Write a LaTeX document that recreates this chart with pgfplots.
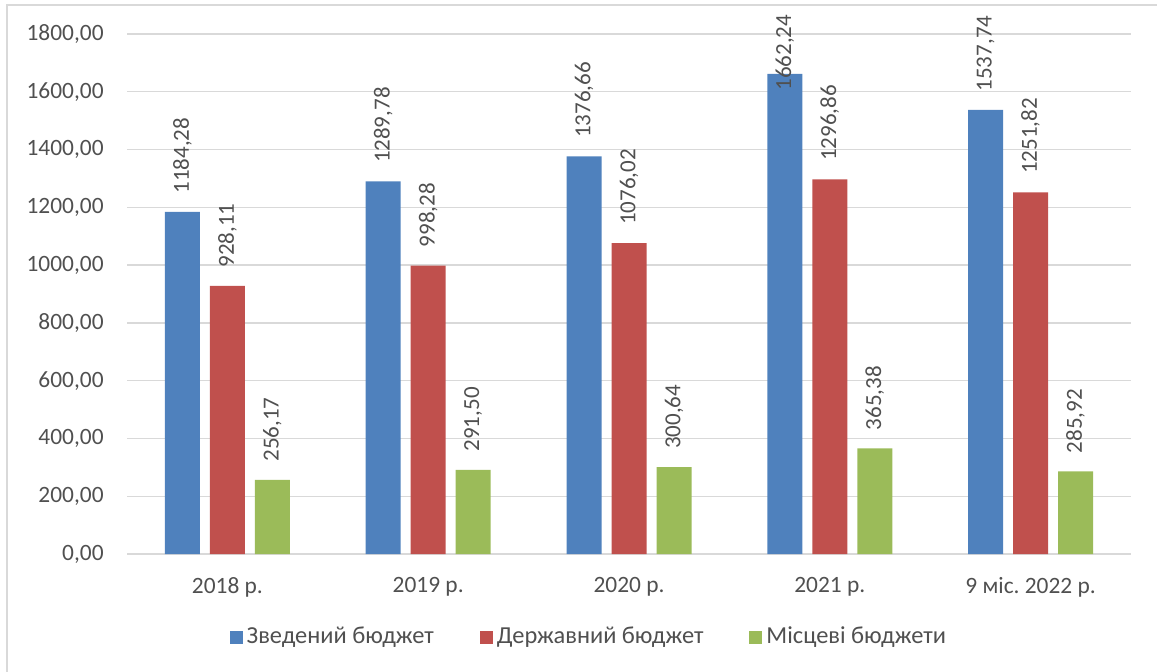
\documentclass[border=0pt]{standalone}
\usepackage{fontspec}
\setmainfont{Carlito}
\usepackage{pgfplots}
\pgfplotsset{compat=1.18}
\definecolor{cBlue}{HTML}{4F81BD}
\definecolor{cRed}{HTML}{C0504D}
\definecolor{cGreen}{HTML}{9BBB59}
\definecolor{txt}{HTML}{505050}
\definecolor{grd}{HTML}{D9D9D9}
\frenchspacing
\begin{document}
\frenchspacing
\begin{tikzpicture}
\path[use as bounding box] (0,0) rectangle (578.5pt,335.5pt);
\draw[grd, line width=0.7pt] (3.5pt,-2pt) -- (3.5pt,333pt) -- (580pt,333pt);
\begin{axis}[
  at={(63.5pt,58.5pt)}, anchor=south west,
  scale only axis, width=502pt, height=260pt,
  ybar=5pt, bar width=17.5pt,
  xmin=-0.5, xmax=4.5, ymin=0, ymax=1800,
  ytick={0,200,...,1800},
  xtick=data,
  xticklabels={2018 р., 2019 р., 2020 р., 2021 р., 9 міс.\ 2022 р.},
  axis x line*=bottom, axis y line*=left,
  x axis line style={draw=grd, line width=0.9pt, -},
  y axis line style={draw=none},
  ymajorgrids, grid style={draw=grd, line width=0.7pt},
  major tick length=0pt,
  font=\fontsize{11.7}{14}\selectfont,
  tick label style={text=txt, font=\fontsize{11.7}{14}\selectfont},
  /pgf/number format/.cd, fixed, fixed zerofill, precision=2, use comma, 1000 sep={}, assume math mode=true, /pgfplots/.cd,
  yticklabel style={inner sep=0pt, xshift=-11.5pt},
  xticklabel style={inner sep=0pt, yshift=-11.5pt},
  nodes near coords,
  visualization depends on={y \as \rawy},
  every node near coord/.append style={rotate=90, anchor=west, inner sep=0pt, inner xsep=9pt, text=txt, font=\fontsize{11.5}{13.8}\selectfont, xshift={-17.5*(\rawy>1600)}},
  legend style={draw=none, at={(0.461,-0.1596)}, anchor=center, legend columns=3, font=\fontsize{12.2}{14}\selectfont, text=txt,
    /tikz/every even column/.append style={column sep=21pt}},
  legend image code/.code={\fill[#1] (0pt,-3.25pt) rectangle (6.5pt,3.25pt);},
]
\addplot[fill=cBlue, draw=none] coordinates {(0,1184.28) (1,1289.78) (2,1376.66) (3,1662.24) (4,1537.74)};
\addplot[fill=cRed, draw=none] coordinates {(0,928.11) (1,998.28) (2,1076.02) (3,1296.86) (4,1251.82)};
\addplot[fill=cGreen, draw=none] coordinates {(0,256.17) (1,291.50) (2,300.64) (3,365.38) (4,285.92)};
\legend{Зведений бюджет, Державний бюджет, Місцеві бюджети}
\end{axis}
\end{tikzpicture}
\end{document}
